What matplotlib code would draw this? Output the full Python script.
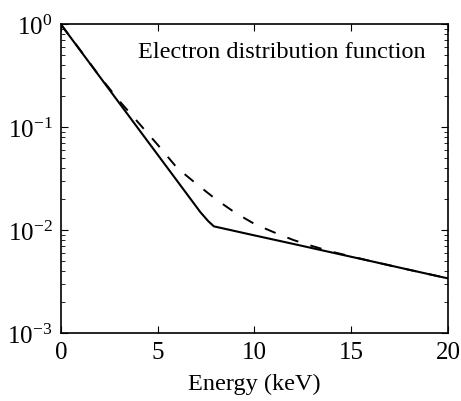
import numpy as np
import matplotlib
matplotlib.use('Agg')
import matplotlib.pyplot as plt

plt.rcParams['font.family'] = 'Liberation Serif'
plt.rcParams['mathtext.fontset'] = 'custom'
plt.rcParams['mathtext.rm'] = 'Liberation Serif'
plt.rcParams['mathtext.it'] = 'Liberation Serif:italic'

#solid curve
E_solid = [0, 2, 4, 6, 7.2, 7.6, 7.9, 10, 12, 14, 16, 18, 20]
f_solid = [1, 0.311, 0.0968, 0.0302, 0.0150, 0.0123, 0.0109,
           0.0089, 0.00736, 0.00607, 0.00501, 0.00412, 0.0034]

#dashed curve
E_dash = [0, 1, 2, 3, 4, 5, 6, 7, 8, 9, 10, 11, 12, 13, 14, 16, 18, 20]
f_dash = [1, 0.562, 0.313, 0.182, 0.111, 0.0676, 0.0403, 0.0282, 0.0200,
          0.0148, 0.0115, 0.00955, 0.00804, 0.0070, 0.00617, 0.00501,
          0.00412, 0.0034]

fig = plt.figure(figsize=(4.61, 4.02), dpi=100)
ax = fig.add_axes([0.1323, 0.169, 0.8395, 0.7676])

ax.semilogy(E_solid, f_solid, 'k-', lw=1.5)
ax.semilogy(E_dash, f_dash, 'k--', lw=1.4, dashes=(6, 6.5))

ax.set_xlim(0, 20)
ax.set_ylim(1e-3, 1)
ax.set_xticks([0, 5, 10, 15, 20])
ax.set_xlabel('Energy (keV)', fontsize=17.5, labelpad=7)
ax.tick_params(which='both', direction='in', top=True, right=True, labelsize=18)
ax.tick_params(which='major', length=5, pad=6)
ax.tick_params(which='minor', length=3)
for s in ax.spines.values():
    s.set_linewidth(1.2)

ax.text(0.942, 0.912, 'Electron distribution function', transform=ax.transAxes,
        ha='right', va='center', fontsize=17.5)

plt.savefig('out.png', dpi=100)
